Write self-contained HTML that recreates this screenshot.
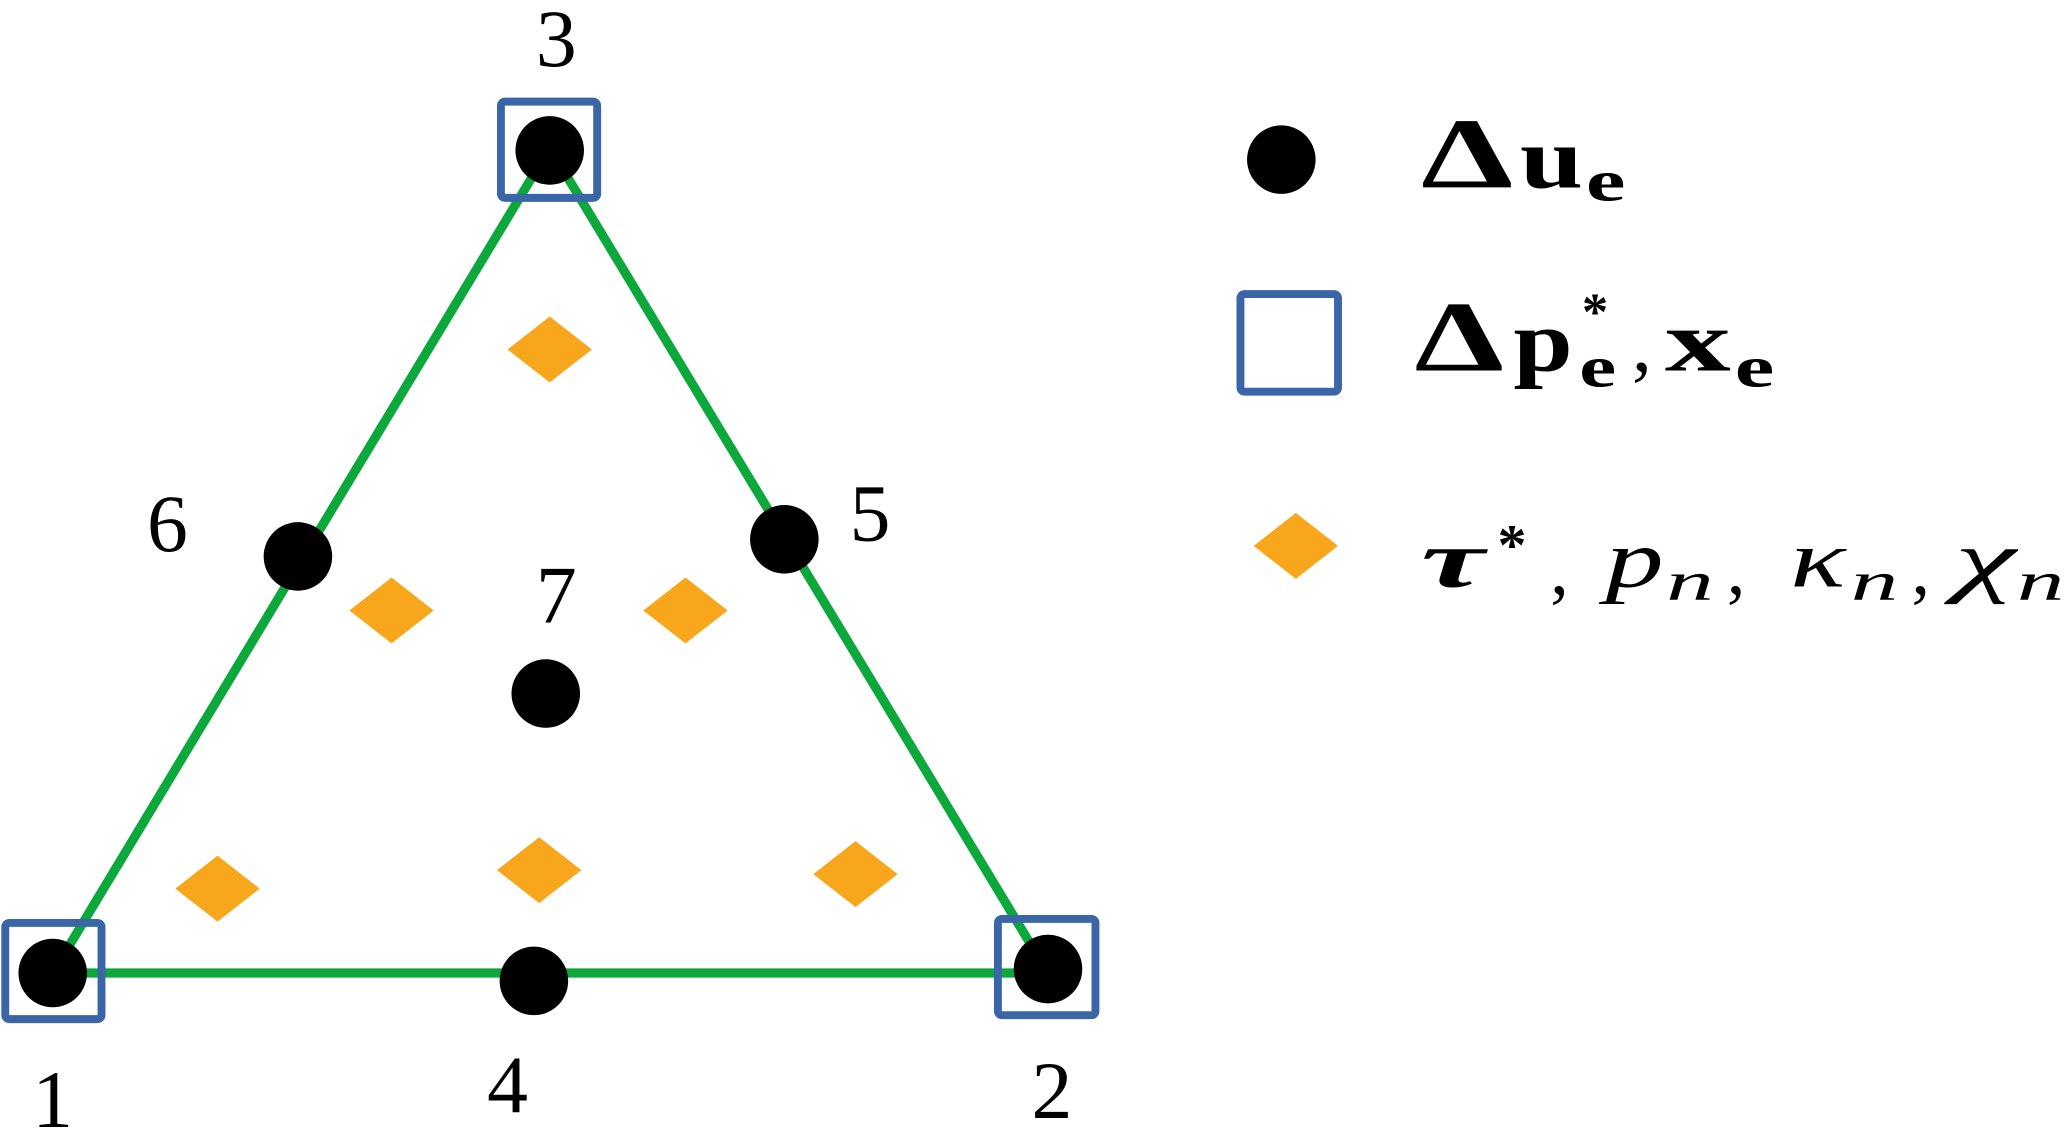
<!DOCTYPE html>
<html><head><meta charset="utf-8"><style>
html,body{margin:0;padding:0;background:#fff;}
svg{display:block;}
text{font-family:"Liberation Serif","DejaVu Serif",serif;fill:#000;}
</style></head><body>
<svg width="2067" height="1130" viewBox="0 0 1568 857" xmlns="http://www.w3.org/2000/svg">
<g stroke="#0ca83c" stroke-width="7" fill="none" stroke-linecap="round">
<polyline points="40,738 795,738"/>
<polyline points="40,738 417,112 795,738"/>
</g>
<g fill="#f8a61c">
<polygon points="385,265 417,240 449,265 417,290"/>
<polygon points="265,463 297,438 329,463 297,488"/>
<polygon points="488,463 520,438 552,463 520,488"/>
<polygon points="133,674 165,649 197,674 165,699"/>
<polygon points="377,660 409,635 441,660 409,685"/>
<polygon points="617,663 649,638 681,663 649,688"/>
<polygon points="951,414 983,389 1015,414 983,439"/>
</g>
<g fill="none" stroke="#3a66a8" stroke-width="6">
<rect x="4" y="700" width="73" height="73" rx="3"/>
<rect x="380" y="77" width="73" height="73" rx="3"/>
<rect x="757" y="697" width="74" height="73" rx="3"/>
<rect x="941" y="223" width="74" height="74" rx="3"/>
</g>
<g fill="#000">
<circle cx="40" cy="738" r="26"/>
<circle cx="417" cy="114" r="26"/>
<circle cx="795" cy="735" r="26"/>
<circle cx="226" cy="422" r="26"/>
<circle cx="595" cy="409" r="26"/>
<circle cx="414" cy="526" r="26"/>
<circle cx="405" cy="744" r="26"/>
<circle cx="972" cy="121" r="26"/>
</g>
<g font-size="62" text-anchor="middle">
<text x="422" y="50">3</text>
<text x="127" y="418">6</text>
<text x="660" y="410">5</text>
<text x="422" y="472">7</text>
<text x="40" y="855">1</text>
<text x="385" y="844">4</text>
<text x="798" y="848">2</text>
</g>
<!-- legend line 1 -->
<g font-weight="bold">
<text x="1078" y="142" font-size="76" textLength="70" lengthAdjust="spacingAndGlyphs">Δ</text>
<text x="1153" y="142" font-size="66" textLength="48" lengthAdjust="spacingAndGlyphs">u</text>
<text x="1203" y="152" font-size="44" textLength="30" lengthAdjust="spacingAndGlyphs">e</text>
<!-- line 2 -->
<text x="1073" y="281" font-size="76" textLength="68" lengthAdjust="spacingAndGlyphs">Δ</text>
<text x="1148" y="281" font-size="66" textLength="45" lengthAdjust="spacingAndGlyphs">p</text>
<text x="1200" y="250" font-size="40">*</text>
<text x="1198" y="293" font-size="44" textLength="28" lengthAdjust="spacingAndGlyphs">e</text>
<text x="1238" y="281" font-size="60" font-weight="normal">,</text>
<text x="1263" y="281" font-size="66" textLength="50" lengthAdjust="spacingAndGlyphs">x</text>
<text x="1316" y="293" font-size="44" textLength="30" lengthAdjust="spacingAndGlyphs">e</text>
</g>
<!-- line 3 -->
<g font-style="italic">
<text x="1078" y="445" font-size="62" font-weight="bold" textLength="48" lengthAdjust="spacingAndGlyphs">τ</text>
<text x="1136" y="428" font-size="44" font-weight="bold" font-style="normal">*</text>
<text x="1176" y="450" font-size="56" font-style="normal">,</text>
<text x="1218" y="445" font-size="62" textLength="44" lengthAdjust="spacingAndGlyphs">p</text>
<text x="1264" y="455" font-size="42" textLength="36" lengthAdjust="spacingAndGlyphs">n</text>
<text x="1310" y="450" font-size="56" font-style="normal">,</text>
<text x="1358" y="445" font-size="62" textLength="42" lengthAdjust="spacingAndGlyphs">κ</text>
<text x="1404" y="455" font-size="42" textLength="36" lengthAdjust="spacingAndGlyphs">n</text>
<text x="1450" y="450" font-size="56" font-style="normal">,</text>
<text x="1483" y="445" font-size="62" textLength="46" lengthAdjust="spacingAndGlyphs">χ</text>
<text x="1530" y="455" font-size="42" textLength="36" lengthAdjust="spacingAndGlyphs">n</text>
</g>
</svg>
</body></html>
